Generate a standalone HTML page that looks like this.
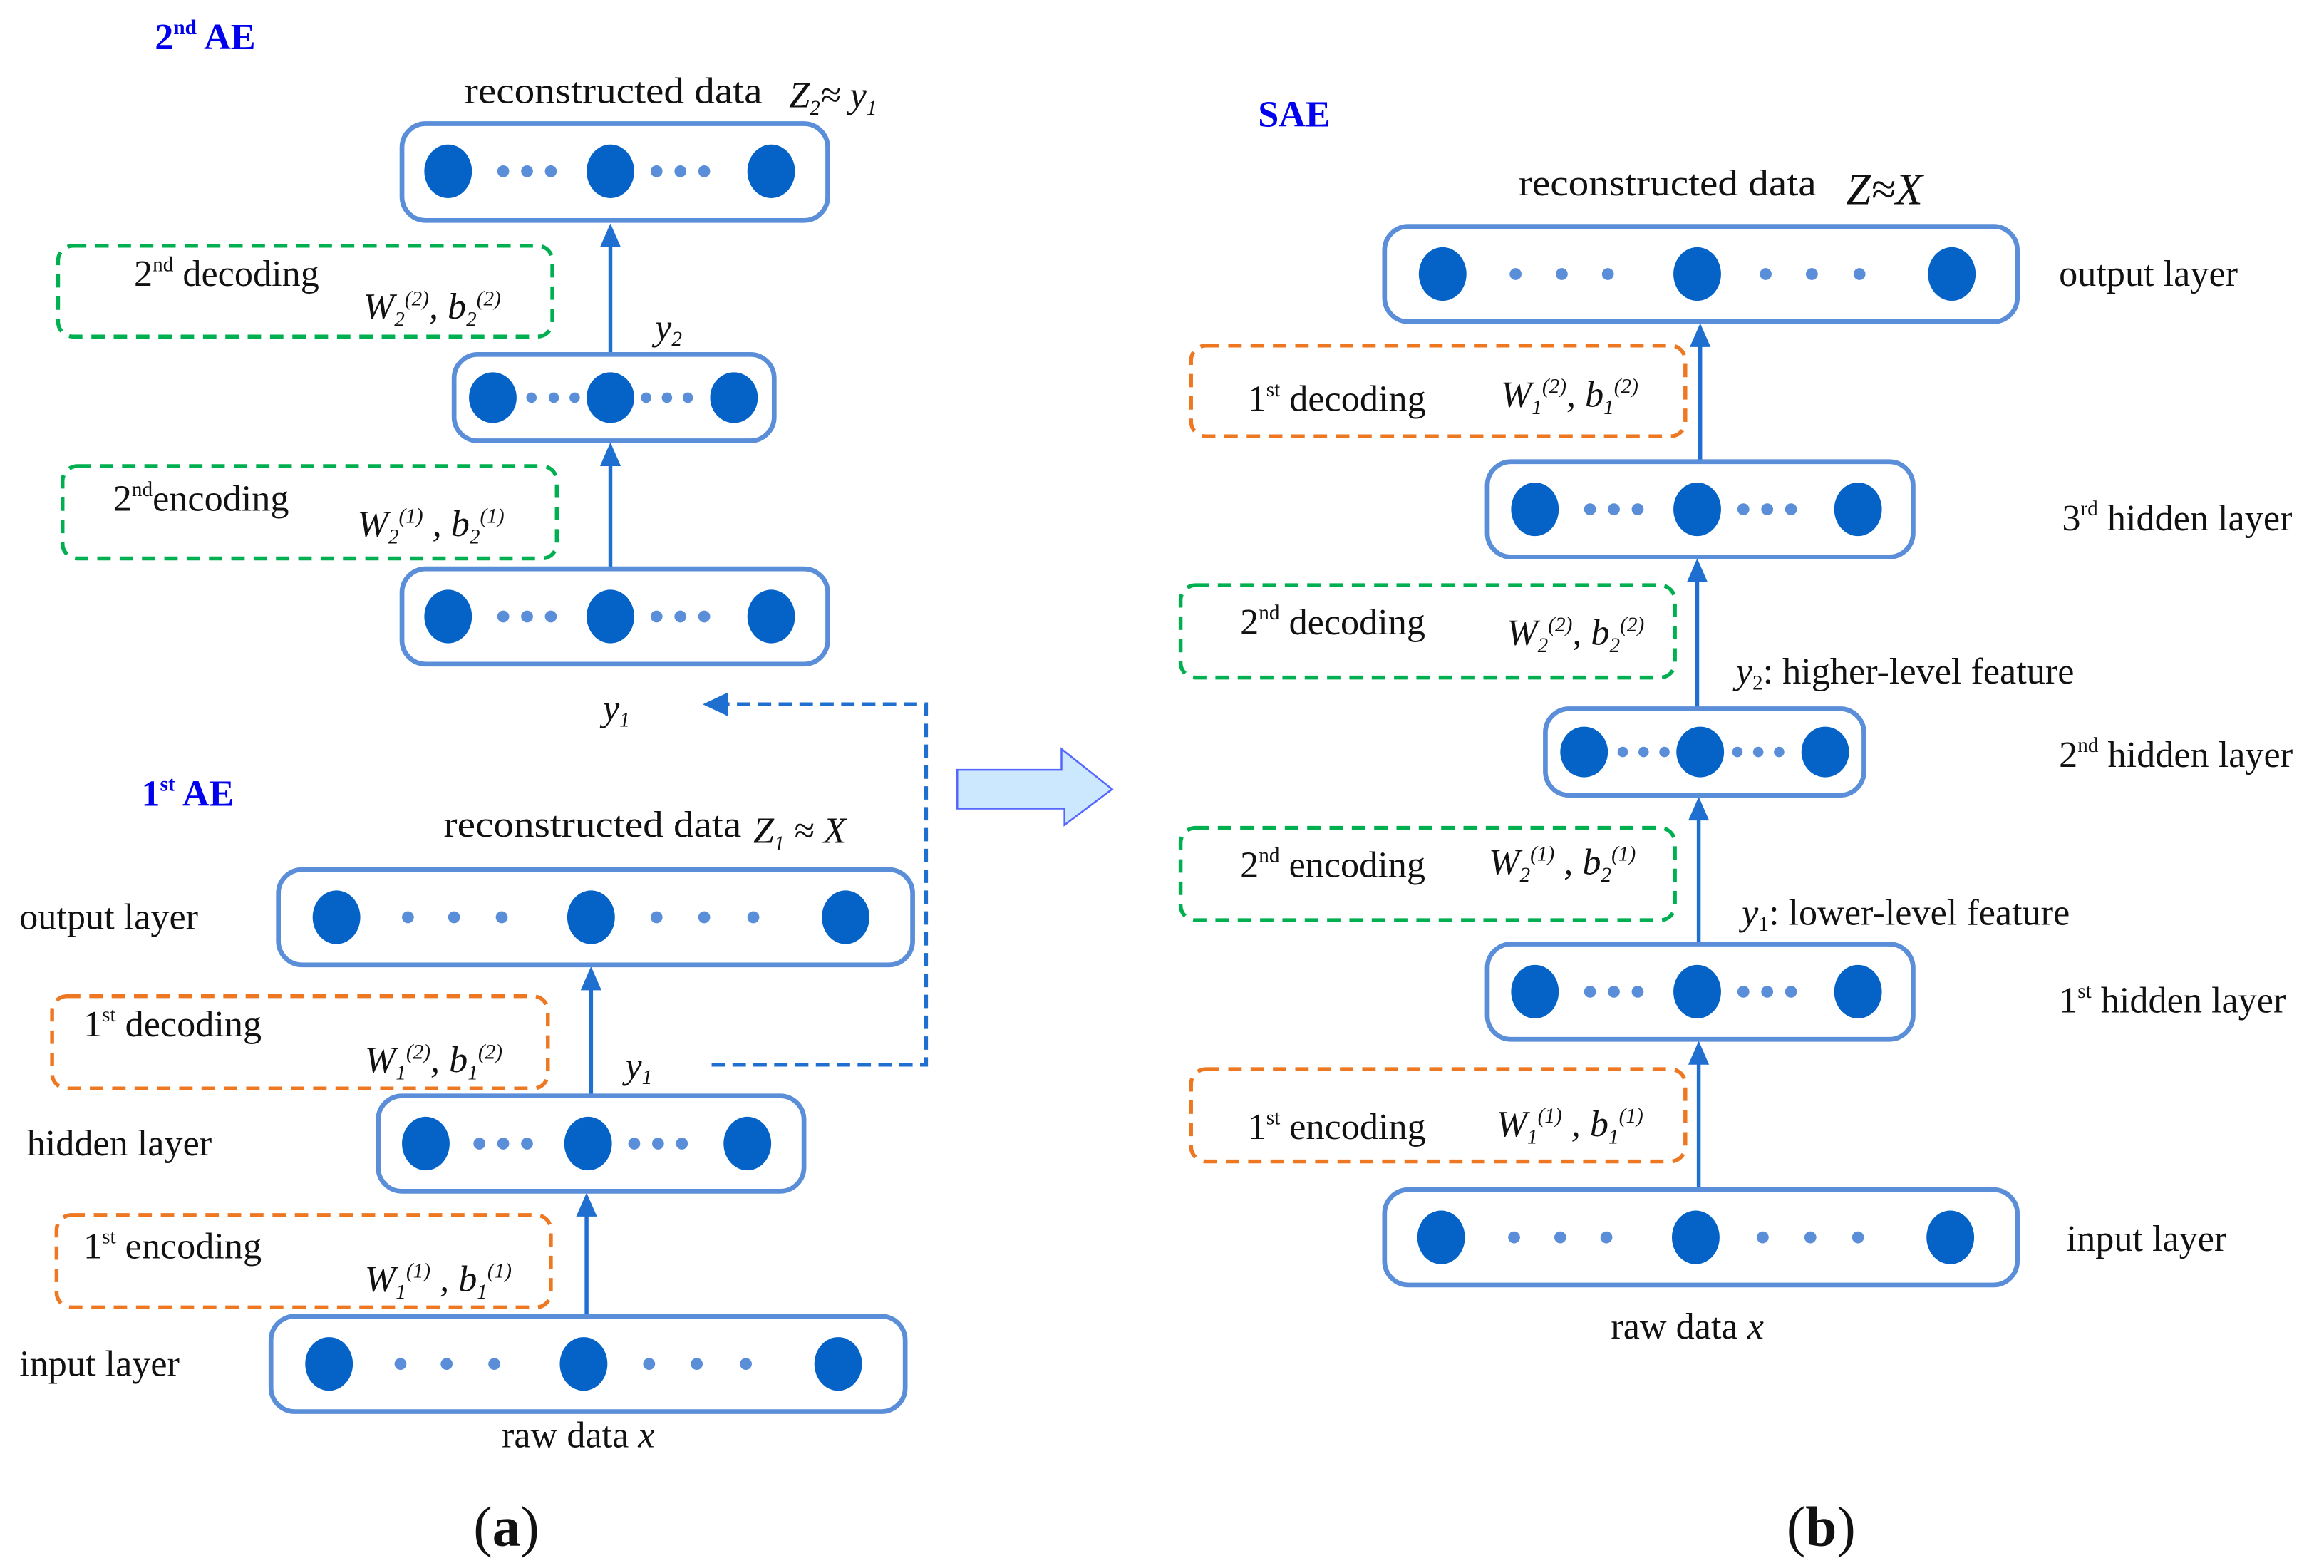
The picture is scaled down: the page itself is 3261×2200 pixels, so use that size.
<!DOCTYPE html>
<html><head><meta charset="utf-8"><style>
html,body{margin:0;padding:0;background:#fff;}
svg{display:block;}
text{font-family:"Liberation Serif",serif;fill:#111;}
.t{font-size:25px;}
.i{font-style:italic;}
.s{font-size:14px;}
.lb{fill:#0000ee;font-weight:bold;font-size:25px;}
.box{fill:none;stroke:#5b8ed8;stroke-width:3.2;}
.big{fill:#0563c8;}
.sm{fill:#5b8ed8;}
.og{fill:none;stroke:#ee7722;stroke-width:2.6;stroke-dasharray:9,6;}
.gr{fill:none;stroke:#00b050;stroke-width:2.6;stroke-dasharray:9,6;}
.ar{stroke:#1f6fd0;stroke-width:2.6;}
</style></head><body>
<svg width="3261" height="2200" viewBox="0 0 1561 1053" xmlns="http://www.w3.org/2000/svg">
<defs>
<marker id="ah" viewBox="0 0 10 10" refX="9" refY="5" markerWidth="6" markerHeight="6" orient="auto-start-reverse" markerUnits="userSpaceOnUse" >
<path d="M0,0 L10,5 L0,10 z" fill="#1f6fd0"/></marker>
</defs>
<g id="arrows">
<line class="ar" x1="410" y1="237" x2="410" y2="165"/><path d="M403,166 L410,150 L417,166z" fill="#1f6fd0"/>
<line class="ar" x1="410" y1="381" x2="410" y2="312"/><path d="M403,313 L410,297 L417,313z" fill="#1f6fd0"/>
<line class="ar" x1="397" y1="735" x2="397" y2="664"/><path d="M390,665 L397,649 L404,665z" fill="#1f6fd0"/>
<line class="ar" x1="394" y1="883" x2="394" y2="816"/><path d="M387,817 L394,801 L401,817z" fill="#1f6fd0"/>
<line class="ar" x1="1142" y1="309" x2="1142" y2="232"/><path d="M1135,233 L1142,217 L1149,233z" fill="#1f6fd0"/>
<line class="ar" x1="1140" y1="475" x2="1140" y2="390"/><path d="M1133,391 L1140,375 L1147,391z" fill="#1f6fd0"/>
<line class="ar" x1="1141" y1="634" x2="1141" y2="550"/><path d="M1134,551 L1141,535 L1148,551z" fill="#1f6fd0"/>
<line class="ar" x1="1141" y1="798" x2="1141" y2="714"/><path d="M1134,715 L1141,699 L1148,715z" fill="#1f6fd0"/>
<path d="M478,715 L622,715 L622,473 L488,473" fill="none" stroke="#1f6fd0" stroke-width="2.6" stroke-dasharray="9,5"/>
<path d="M489,465 L472,473 L489,481z" fill="#1f6fd0"/>
</g>
<!-- big arrow -->
<path d="M643,517 L713,517 L713,503 L747,530 L715,554 L715,543 L643,543z" fill="#cce8ff" stroke="#5566ff" stroke-width="1.2"/>

<!-- layer boxes (a) -->
<rect class="box" x="270" y="83" width="286" height="65" rx="16"/>
<ellipse class="big" cx="301" cy="115" rx="16" ry="18"/><ellipse class="big" cx="410" cy="115" rx="16" ry="18"/><ellipse class="big" cx="518" cy="115" rx="16" ry="18"/>
<circle class="sm" cx="338" cy="115" r="4"/><circle class="sm" cx="354" cy="115" r="4"/><circle class="sm" cx="370" cy="115" r="4"/><circle class="sm" cx="441" cy="115" r="4"/><circle class="sm" cx="457" cy="115" r="4"/><circle class="sm" cx="473" cy="115" r="4"/>

<rect class="box" x="305" y="238" width="215" height="58" rx="16"/>
<ellipse class="big" cx="331" cy="267" rx="16" ry="17"/><ellipse class="big" cx="410" cy="267" rx="16" ry="17"/><ellipse class="big" cx="493" cy="267" rx="16" ry="17"/>
<circle class="sm" cx="357" cy="267" r="3.5"/><circle class="sm" cx="372" cy="267" r="3.5"/><circle class="sm" cx="386" cy="267" r="3.5"/><circle class="sm" cx="434" cy="267" r="3.5"/><circle class="sm" cx="448" cy="267" r="3.5"/><circle class="sm" cx="462" cy="267" r="3.5"/>

<rect class="box" x="270" y="382" width="286" height="64" rx="16"/>
<ellipse class="big" cx="301" cy="414" rx="16" ry="18"/><ellipse class="big" cx="410" cy="414" rx="16" ry="18"/><ellipse class="big" cx="518" cy="414" rx="16" ry="18"/>
<circle class="sm" cx="338" cy="414" r="4"/><circle class="sm" cx="354" cy="414" r="4"/><circle class="sm" cx="370" cy="414" r="4"/><circle class="sm" cx="441" cy="414" r="4"/><circle class="sm" cx="457" cy="414" r="4"/><circle class="sm" cx="473" cy="414" r="4"/>

<rect class="box" x="187" y="584" width="426" height="64" rx="16"/>
<ellipse class="big" cx="226" cy="616" rx="16" ry="18"/><ellipse class="big" cx="397" cy="616" rx="16" ry="18"/><ellipse class="big" cx="568" cy="616" rx="16" ry="18"/>
<circle class="sm" cx="274" cy="616" r="4"/><circle class="sm" cx="305" cy="616" r="4"/><circle class="sm" cx="337" cy="616" r="4"/><circle class="sm" cx="441" cy="616" r="4"/><circle class="sm" cx="473" cy="616" r="4"/><circle class="sm" cx="506" cy="616" r="4"/>

<rect class="box" x="254" y="736" width="286" height="64" rx="16"/>
<ellipse class="big" cx="286" cy="768" rx="16" ry="18"/><ellipse class="big" cx="395" cy="768" rx="16" ry="18"/><ellipse class="big" cx="502" cy="768" rx="16" ry="18"/>
<circle class="sm" cx="322" cy="768" r="4"/><circle class="sm" cx="338" cy="768" r="4"/><circle class="sm" cx="354" cy="768" r="4"/><circle class="sm" cx="426" cy="768" r="4"/><circle class="sm" cx="442" cy="768" r="4"/><circle class="sm" cx="458" cy="768" r="4"/>

<rect class="box" x="182" y="884" width="426" height="64" rx="16"/>
<ellipse class="big" cx="221" cy="916" rx="16" ry="18"/><ellipse class="big" cx="392" cy="916" rx="16" ry="18"/><ellipse class="big" cx="563" cy="916" rx="16" ry="18"/>
<circle class="sm" cx="269" cy="916" r="4"/><circle class="sm" cx="300" cy="916" r="4"/><circle class="sm" cx="332" cy="916" r="4"/><circle class="sm" cx="436" cy="916" r="4"/><circle class="sm" cx="468" cy="916" r="4"/><circle class="sm" cx="501" cy="916" r="4"/>

<!-- dashed boxes (a) -->
<rect class="gr" x="39" y="165" width="332" height="61" rx="10"/>
<rect class="gr" x="42" y="313" width="332" height="62" rx="10"/>
<rect class="og" x="35" y="669" width="333" height="62" rx="10"/>
<rect class="og" x="38" y="816" width="332" height="62" rx="10"/>

<!-- layer boxes (b) -->
<rect class="box" x="930" y="152" width="425" height="64" rx="16"/>
<ellipse class="big" cx="969" cy="184" rx="16" ry="18"/><ellipse class="big" cx="1140" cy="184" rx="16" ry="18"/><ellipse class="big" cx="1311" cy="184" rx="16" ry="18"/>
<circle class="sm" cx="1018" cy="184" r="4"/><circle class="sm" cx="1049" cy="184" r="4"/><circle class="sm" cx="1080" cy="184" r="4"/><circle class="sm" cx="1186" cy="184" r="4"/><circle class="sm" cx="1217" cy="184" r="4"/><circle class="sm" cx="1249" cy="184" r="4"/>

<rect class="box" x="999" y="310" width="286" height="64" rx="16"/>
<ellipse class="big" cx="1031" cy="342" rx="16" ry="18"/><ellipse class="big" cx="1140" cy="342" rx="16" ry="18"/><ellipse class="big" cx="1248" cy="342" rx="16" ry="18"/>
<circle class="sm" cx="1068" cy="342" r="4"/><circle class="sm" cx="1084" cy="342" r="4"/><circle class="sm" cx="1100" cy="342" r="4"/><circle class="sm" cx="1171" cy="342" r="4"/><circle class="sm" cx="1187" cy="342" r="4"/><circle class="sm" cx="1203" cy="342" r="4"/>

<rect class="box" x="1038" y="476" width="214" height="58" rx="16"/>
<ellipse class="big" cx="1064" cy="505" rx="16" ry="17"/><ellipse class="big" cx="1142" cy="505" rx="16" ry="17"/><ellipse class="big" cx="1226" cy="505" rx="16" ry="17"/>
<circle class="sm" cx="1090" cy="505" r="3.5"/><circle class="sm" cx="1104" cy="505" r="3.5"/><circle class="sm" cx="1118" cy="505" r="3.5"/><circle class="sm" cx="1167" cy="505" r="3.5"/><circle class="sm" cx="1181" cy="505" r="3.5"/><circle class="sm" cx="1195" cy="505" r="3.5"/>

<rect class="box" x="999" y="634" width="286" height="64" rx="16"/>
<ellipse class="big" cx="1031" cy="666" rx="16" ry="18"/><ellipse class="big" cx="1140" cy="666" rx="16" ry="18"/><ellipse class="big" cx="1248" cy="666" rx="16" ry="18"/>
<circle class="sm" cx="1068" cy="666" r="4"/><circle class="sm" cx="1084" cy="666" r="4"/><circle class="sm" cx="1100" cy="666" r="4"/><circle class="sm" cx="1171" cy="666" r="4"/><circle class="sm" cx="1187" cy="666" r="4"/><circle class="sm" cx="1203" cy="666" r="4"/>

<rect class="box" x="930" y="799" width="425" height="64" rx="16"/>
<ellipse class="big" cx="968" cy="831" rx="16" ry="18"/><ellipse class="big" cx="1139" cy="831" rx="16" ry="18"/><ellipse class="big" cx="1310" cy="831" rx="16" ry="18"/>
<circle class="sm" cx="1017" cy="831" r="4"/><circle class="sm" cx="1048" cy="831" r="4"/><circle class="sm" cx="1079" cy="831" r="4"/><circle class="sm" cx="1184" cy="831" r="4"/><circle class="sm" cx="1216" cy="831" r="4"/><circle class="sm" cx="1248" cy="831" r="4"/>

<rect class="og" x="800" y="232" width="332" height="61" rx="10"/>
<rect class="gr" x="793" y="393" width="332" height="62" rx="10"/>
<rect class="gr" x="793" y="556" width="332" height="62" rx="10"/>
<rect class="og" x="800" y="718" width="332" height="62" rx="10"/>

<!-- text (a) -->
<text class="lb" x="104" y="33">2<tspan class="s" dy="-10">nd</tspan><tspan dy="10"> AE</tspan></text>
<text class="t" x="312" y="69" textLength="200" lengthAdjust="spacingAndGlyphs">reconstructed data</text>
<text class="t i" x="530" y="72">Z<tspan class="s" dy="5">2</tspan><tspan dy="-5">≈ y</tspan><tspan class="s" dy="5">1</tspan></text>
<text class="t" x="90" y="192">2<tspan class="s" dy="-10">nd</tspan><tspan dy="10"> decoding</tspan></text>
<text class="t i" x="244" y="214">W<tspan class="s" dy="5">2</tspan><tspan class="s" dy="-14">(2)</tspan><tspan dy="9">, b</tspan><tspan class="s" dy="5">2</tspan><tspan class="s" dy="-14">(2)</tspan></text>
<text class="t i" x="440" y="228">y<tspan class="s" dy="4">2</tspan></text>
<text class="t" x="76" y="343">2<tspan class="s" dy="-10">nd</tspan><tspan dy="10">encoding</tspan></text>
<text class="t i" x="240" y="360">W<tspan class="s" dy="5">2</tspan><tspan class="s" dy="-14">(1)</tspan><tspan dy="9"> , b</tspan><tspan class="s" dy="5">2</tspan><tspan class="s" dy="-14">(1)</tspan></text>
<text class="t i" x="405" y="484">y<tspan class="s" dy="4">1</tspan></text>
<text class="lb" x="95" y="541">1<tspan class="s" dy="-10">st</tspan><tspan dy="10"> AE</tspan></text>
<text class="t" x="298" y="562" textLength="200" lengthAdjust="spacingAndGlyphs">reconstructed data</text>
<text class="t i" x="506" y="566">Z<tspan class="s" dy="5">1</tspan><tspan dy="-5">  ≈ X</tspan></text>
<text class="t" x="13" y="624">output layer</text>
<text class="t" x="56" y="696">1<tspan class="s" dy="-10">st</tspan><tspan dy="10"> decoding</tspan></text>
<text class="t i" x="245" y="720">W<tspan class="s" dy="5">1</tspan><tspan class="s" dy="-14">(2)</tspan><tspan dy="9">, b</tspan><tspan class="s" dy="5">1</tspan><tspan class="s" dy="-14">(2)</tspan></text>
<text class="t i" x="420" y="724">y<tspan class="s" dy="4">1</tspan></text>
<text class="t" x="18" y="776">hidden layer</text>
<text class="t" x="56" y="845">1<tspan class="s" dy="-10">st</tspan><tspan dy="10"> encoding</tspan></text>
<text class="t i" x="245" y="867">W<tspan class="s" dy="5">1</tspan><tspan class="s" dy="-14">(1)</tspan><tspan dy="9"> , b</tspan><tspan class="s" dy="5">1</tspan><tspan class="s" dy="-14">(1)</tspan></text>
<text class="t" x="13" y="924">input layer</text>
<text class="t" x="337" y="972">raw data <tspan class="i">x</tspan></text>
<text x="318" y="1038" style="font-size:38px">(<tspan font-weight="bold">a</tspan>)</text>

<!-- text (b) -->
<text class="lb" x="845" y="85">SAE</text>
<text class="t" x="1020" y="131" textLength="200" lengthAdjust="spacingAndGlyphs">reconstructed data</text>
<text class="i" x="1240" y="137" style="font-size:30px">Z≈X</text>
<text class="t" x="1383" y="192">output layer</text>
<text class="t" x="838" y="276">1<tspan class="s" dy="-10">st</tspan><tspan dy="10"> decoding</tspan></text>
<text class="t i" x="1008" y="273">W<tspan class="s" dy="5">1</tspan><tspan class="s" dy="-14">(2)</tspan><tspan dy="9">, b</tspan><tspan class="s" dy="5">1</tspan><tspan class="s" dy="-14">(2)</tspan></text>
<text class="t" x="1385" y="356">3<tspan class="s" dy="-10">rd</tspan><tspan dy="10"> hidden layer</tspan></text>
<text class="t" x="833" y="426">2<tspan class="s" dy="-10">nd</tspan><tspan dy="10"> decoding</tspan></text>
<text class="t i" x="1012" y="433">W<tspan class="s" dy="5">2</tspan><tspan class="s" dy="-14">(2)</tspan><tspan dy="9">, b</tspan><tspan class="s" dy="5">2</tspan><tspan class="s" dy="-14">(2)</tspan></text>
<text class="t" x="1166" y="459"><tspan class="i">y</tspan><tspan class="s" dy="4">2</tspan><tspan dy="-4">: higher-level feature</tspan></text>
<text class="t" x="1383" y="515">2<tspan class="s" dy="-10">nd</tspan><tspan dy="10"> hidden layer</tspan></text>
<text class="t" x="833" y="589">2<tspan class="s" dy="-10">nd</tspan><tspan dy="10"> encoding</tspan></text>
<text class="t i" x="1000" y="587">W<tspan class="s" dy="5">2</tspan><tspan class="s" dy="-14">(1)</tspan><tspan dy="9"> , b</tspan><tspan class="s" dy="5">2</tspan><tspan class="s" dy="-14">(1)</tspan></text>
<text class="t" x="1170" y="621"><tspan class="i">y</tspan><tspan class="s" dy="4">1</tspan><tspan dy="-4">: lower-level feature</tspan></text>
<text class="t" x="1383" y="680">1<tspan class="s" dy="-10">st</tspan><tspan dy="10"> hidden layer</tspan></text>
<text class="t" x="838" y="765">1<tspan class="s" dy="-10">st</tspan><tspan dy="10"> encoding</tspan></text>
<text class="t i" x="1005" y="763">W<tspan class="s" dy="5">1</tspan><tspan class="s" dy="-14">(1)</tspan><tspan dy="9"> , b</tspan><tspan class="s" dy="5">1</tspan><tspan class="s" dy="-14">(1)</tspan></text>
<text class="t" x="1388" y="840">input layer</text>
<text class="t" x="1082" y="899">raw data  <tspan class="i">x</tspan></text>
<text x="1200" y="1038" style="font-size:38px">(<tspan font-weight="bold">b</tspan>)</text>
</svg>
</body></html>
